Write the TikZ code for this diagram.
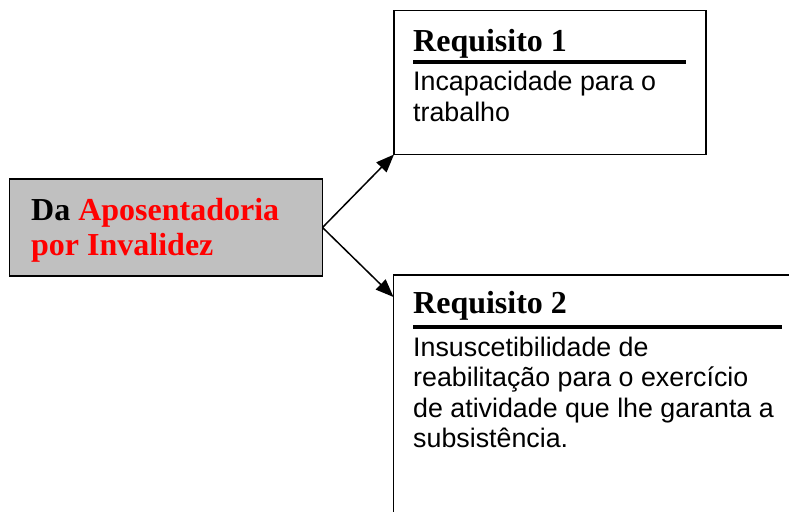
\documentclass[tikz,border=0pt]{standalone}
\usepackage{fontspec}
\setmainfont{Liberation Serif}
\newfontfamily\arialfont{Liberation Sans}
\usetikzlibrary{arrows.meta}
\definecolor{boxgray}{HTML}{C0C0C0}
\begin{document}
\begin{tikzpicture}[x=1pt,y=-1pt,
  box/.style={draw=black,line width=1.6pt,anchor=north west,inner sep=0pt,outer sep=0pt},
  title/.style={anchor=base west,inner sep=0pt,font=\fontsize{32}{36}\selectfont\bfseries},
  body/.style={anchor=base west,inner sep=0pt,font=\arialfont\fontsize{26.8}{31}\selectfont},
  rule/.style={line width=4pt},
  conn/.style={line width=1.5pt,-{Triangle[length=18pt,width=14pt]}}]
\useasboundingbox (0,0) rectangle (789,511);
\clip (0,0) rectangle (789,511);
\node[box,fill=boxgray,minimum width=313pt,minimum height=97pt] (main) at (9.5,179) {};
\node[box,fill=white,minimum width=312pt,minimum height=144pt] (r1) at (394,10.5) {};
\node[box,fill=white,minimum width=450pt,minimum height=300pt] (r2) at (393.5,275) {};
\node[title] (mt1) at (31,220) {Da \textcolor{red}{Aposentadoria}};
\node[title,text=red] (mt2) at (31,255) {por Invalidez};
\node[title] (t1) at (413,52) {Requisito 1};
\draw[rule] (413,62) -- (686,62);
\node[body] (b11) at (413,90) {Incapacidade para o};
\node[body] (b12) at (413,121) {trabalho};
\node[title] (t2) at (413,313) {Requisito 2};
\draw[rule] (413,327) -- (782,327);
\node[body] (b21) at (413,356) {Insuscetibilidade de};
\node[body] (b22) at (413,386.5) {reabilitação para o exercício};
\node[body] (b23) at (413,417) {de atividade que lhe garanta a};
\node[body] (b24) at (413,447.5) {subsistência.};
\coordinate (tip2) at (393.5,297);
\draw[conn] (main.east) -- (r1.south west);
\draw[conn] (main.east) -- (tip2);
\end{tikzpicture}
\end{document}
